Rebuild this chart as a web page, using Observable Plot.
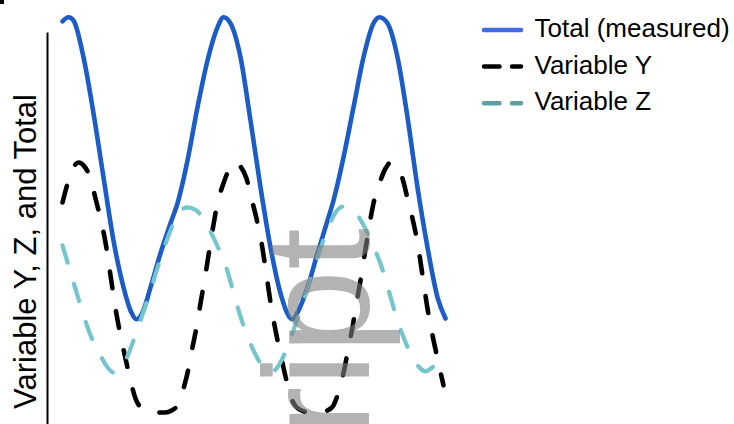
<!DOCTYPE html>
<html><head><meta charset="utf-8">
<script src="https://cdn.jsdelivr.net/npm/d3@7"></script>
<script src="https://cdn.jsdelivr.net/npm/@observablehq/plot@0.6"></script>
<style>
html,body{margin:0;padding:0;background:#fff;}
#wrap{position:relative;width:734px;height:424px;overflow:hidden;font-family:"Liberation Sans",Arial,sans-serif;}
</style></head><body><div id="wrap"></div>
<script>
// ---- data (time in arbitrary units, values in arbitrary units) ----
const seriesNames = ["Total (measured)", "Variable Y", "Variable Z"];
const lineColors = ["#1c5cc7", "#000000", "#74c5ce"];
const legendColors = ["#4169e1", "#000000", "#5f9ea0"];
const yLabel = "Variable Y, Z, and Total";
const watermark = "ript";

const totalTime = [0.0,0.6,1.1,2.1,3.1,4.1,5.1,6.1,6.8,7.4,8.0,8.8,9.8,10.8,11.5,12.5,13.5,14.5,15.5,16.1,16.8,17.8,18.8,19.8,20.8,21.8,23.0,23.6,24.5,25.5,26.5,27.1,28.1,29.1,30.1,31.1,31.7,32.5,33.5,34.5,35.5,36.5,37.5,38.3];
const totalValue = [9.78,9.88,9.80,8.88,7.48,5.88,4.30,3.13,2.55,2.33,2.50,3.13,3.98,4.73,5.23,6.30,7.63,8.80,9.63,9.88,9.73,8.88,7.30,5.63,4.13,2.98,2.33,2.55,3.13,3.98,4.80,5.30,6.38,7.63,8.88,9.73,9.88,9.73,8.88,7.38,5.63,4.13,2.88,2.35];

const yTime = [0.0,0.6,1.1,1.6,2.2,2.8,3.3,3.8,4.3,4.8,5.3,5.8,6.3,6.8,7.3,7.8,8.5,9.3,10.3,10.9,11.5,12.1,12.6,13.0,13.4,13.8,14.2,14.6,15.0,15.5,16.1,16.7,17.2,17.8,18.4,18.9,19.4,19.9,20.4,20.9,21.4,21.9,22.4,22.9,23.4,24.1,24.9,25.9,26.5,27.1,27.7,28.2,28.6,29.0,29.4,29.8,30.2,30.6,31.1,31.7,32.3,32.8,33.4,34.0,34.5,35.0,35.5,36.0,36.5,37.0,37.5,38.1];
const yValue = [5.25,5.80,6.13,6.25,6.15,5.85,5.35,4.85,4.25,3.43,2.60,1.93,1.35,0.80,0.35,0.13,0.03,0.00,0.00,0.05,0.18,0.60,1.10,1.63,2.13,2.73,3.30,3.93,4.55,5.23,5.73,6.10,6.25,6.15,5.85,5.35,4.85,4.25,3.43,2.60,1.93,1.35,0.80,0.35,0.13,0.03,0.00,0.00,0.05,0.18,0.60,1.10,1.63,2.13,2.73,3.30,3.93,4.55,5.23,5.73,6.10,6.25,6.15,5.85,5.35,4.85,4.25,3.43,2.60,1.93,1.35,0.68];

const zTime = [0.0,0.8,1.8,2.8,3.6,4.3,5.1,5.8,6.3,6.8,7.8,8.8,9.8,10.8,11.6,12.5,13.4,14.4,15.6,16.5,17.1,17.8,18.5,19.3,20.0,20.7,21.4,21.9,22.5,23.5,24.5,25.5,26.5,27.3,28.1,29.0,30.0,31.2,32.1,32.7,33.4,34.1,34.9,35.6,36.3,37.0,37.8];
const zValue = [4.18,3.50,2.68,1.93,1.53,1.20,1.00,1.10,1.30,1.60,2.30,3.05,3.85,4.55,4.98,5.13,5.05,4.70,4.10,3.53,3.00,2.40,1.90,1.45,1.15,1.00,1.10,1.30,1.65,2.35,3.10,3.88,4.58,5.00,5.15,5.08,4.73,4.10,3.50,2.98,2.38,1.88,1.43,1.15,1.03,1.13,1.30];

const toRows = (ts, vs) => ts.map((t, i) => ({t, v: vs[i]}));
const totalRows = toRows(totalTime, totalValue);
const yRows = toRows(yTime, yValue);
const zRows = toRows(zTime, zValue);

const FONT = "Liberation Sans, Arial, sans-serif";

const chart = Plot.plot({
  width: 734, height: 424,
  marginLeft: 47, marginTop: 33, marginBottom: 0, marginRight: 0,
  x: {domain: [0, 38.3], range: [62, 445], axis: null},
  y: {domain: [0, 10], range: [412, 12], axis: null},
  style: {fontFamily: FONT, background: "white"},
  marks: [
    Plot.frame({anchor: "left", stroke: "black", strokeWidth: 2}),
    Plot.text([yLabel], {text: d => d, frameAnchor: "left", rotate: -90, textAnchor: "middle", lineAnchor: "bottom",
      dx: -12, dy: 22.5, fontSize: 31, fill: "black"}),
    Plot.line(totalRows, {x: "t", y: "v", stroke: lineColors[0], strokeWidth: 4.6, curve: "monotone-x"}),
    Plot.line(yRows, {x: "t", y: "v", stroke: lineColors[1], strokeWidth: 4.6, curve: "monotone-x",
      strokeDasharray: "17,23", strokeLinecap: "round"}),
    Plot.line(zRows, {x: "t", y: "v", stroke: lineColors[2], strokeWidth: 4.2, curve: "monotone-x",
      strokeDasharray: "18,22", strokeLinecap: "round"}),
    Plot.text([watermark], {text: d => d, frameAnchor: "bottom-left", rotate: -90, textAnchor: "start",
      lineAnchor: "bottom", dx: 321, dy: 12, fontSize: 150, fill: "gray", fillOpacity: 0.6})
  ]
});
const wrap = document.getElementById("wrap");
wrap.appendChild(chart);

// legend overlay
const leg = d3.select(wrap).append("svg")
  .attr("width", 734).attr("height", 424)
  .style("position", "absolute").style("left", "0px").style("top", "0px")
  .style("pointer-events", "none");
leg.append("rect").attr("x", 0).attr("y", 0).attr("width", 4).attr("height", 4).attr("fill", "black");
const dashes = [null, "15.5,12.5", "15.5,12.5"];
seriesNames.forEach((name, i) => {
  const cy = 30 + i * 36.6;
  leg.append("line").attr("x1", 484).attr("x2", 521).attr("y1", cy).attr("y2", cy)
    .attr("stroke", legendColors[i]).attr("stroke-width", 4.5).attr("stroke-linecap", "round")
    .attr("stroke-dasharray", dashes[i]);
  leg.append("text").attr("x", 534.5).attr("y", cy + 6.9).attr("font-size", 26)
    .attr("font-family", FONT).attr("fill", "black").text(name);
});
</script>
</body></html>
